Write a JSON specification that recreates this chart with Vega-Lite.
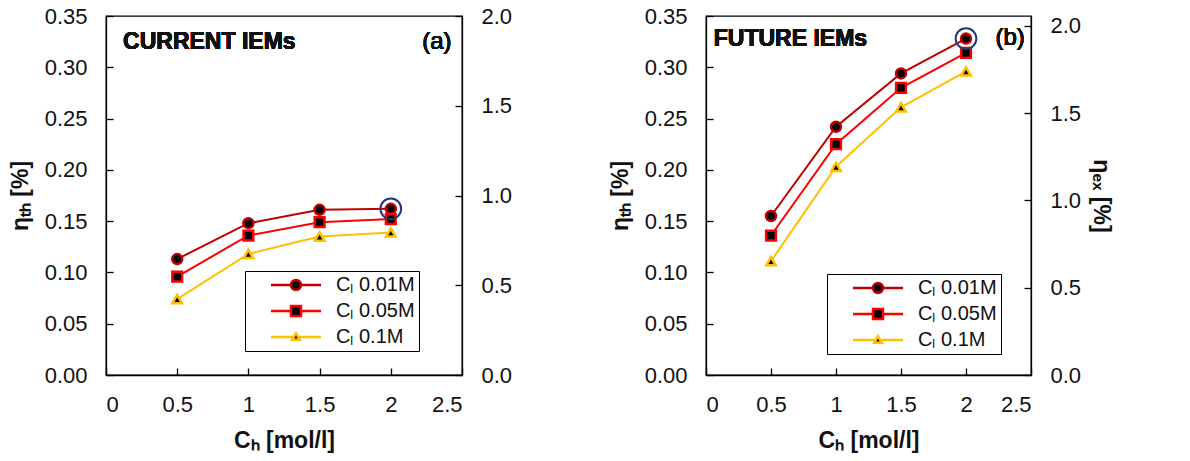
{
  "$schema": "https://vega.github.io/schema/vega-lite/v6.json",
  "background": "white",
  "padding": {"left": 8, "top": 4, "right": 20, "bottom": 0},
  "datasets": {
    "a": [
      {"series": "0.01M", "ch": 0.5, "eta": 0.113},
      {"series": "0.01M", "ch": 1.0, "eta": 0.148},
      {"series": "0.01M", "ch": 1.5, "eta": 0.161},
      {"series": "0.01M", "ch": 2.0, "eta": 0.162},
      {"series": "0.05M", "ch": 0.5, "eta": 0.096},
      {"series": "0.05M", "ch": 1.0, "eta": 0.136},
      {"series": "0.05M", "ch": 1.5, "eta": 0.149},
      {"series": "0.05M", "ch": 2.0, "eta": 0.152},
      {"series": "0.1M", "ch": 0.5, "eta": 0.074},
      {"series": "0.1M", "ch": 1.0, "eta": 0.118},
      {"series": "0.1M", "ch": 1.5, "eta": 0.135},
      {"series": "0.1M", "ch": 2.0, "eta": 0.139}
    ],
    "b": [
      {"series": "0.01M", "ch": 0.5, "eta": 0.155},
      {"series": "0.01M", "ch": 1.0, "eta": 0.242},
      {"series": "0.01M", "ch": 1.5, "eta": 0.294},
      {"series": "0.01M", "ch": 2.0, "eta": 0.328},
      {"series": "0.05M", "ch": 0.5, "eta": 0.136},
      {"series": "0.05M", "ch": 1.0, "eta": 0.225},
      {"series": "0.05M", "ch": 1.5, "eta": 0.280},
      {"series": "0.05M", "ch": 2.0, "eta": 0.314},
      {"series": "0.1M", "ch": 0.5, "eta": 0.111},
      {"series": "0.1M", "ch": 1.0, "eta": 0.203},
      {"series": "0.1M", "ch": 1.5, "eta": 0.261},
      {"series": "0.1M", "ch": 2.0, "eta": 0.296}
    ]
  },
  "config": {
    "font": "Liberation Sans",
    "view": {"stroke": "black", "strokeWidth": 1.3},
    "axis": {
      "grid": false,
      "domainColor": "black",
      "domainWidth": 1.3,
      "tickColor": "black",
      "tickWidth": 1.3,
      "tickSize": -7,
      "labelFont": "Liberation Sans",
      "labelFontSize": 22,
      "labelColor": "#111",
      "labelPadding": 26,
      "titleFont": "Liberation Sans",
      "titleFontSize": 23,
      "titleFontWeight": "bold",
      "titleColor": "#111"
    },
    "legend": {
      "orient": "none",
      "title": null,
      "strokeColor": "black",
      "fillColor": "white",
      "padding": 4,
      "labelFont": "Liberation Sans",
      "labelFontSize": 20,
      "labelColor": "#111",
      "rowPadding": 6,
      "symbolOffset": 37,
      "labelOffset": 30,
      "symbolStrokeWidth": 2.5,
      "symbolSize": 100
    }
  },
  "spacing": 95,
  "resolve": {
    "scale": {"stroke": "independent", "shape": "independent", "size": "independent"},
    "legend": {"stroke": "independent"}
  },
  "hconcat": [
    {
      "width": 356,
      "height": 359,
      "resolve": {"scale": {"y": "independent"}},
      "layer": [
        {
          "data": {"name": "a"},
          "resolve": {"scale": {"stroke": "independent", "shape": "independent", "size": "independent"}, "legend": {"stroke": "independent"}},
          "encoding": {
            "x": {"field": "ch", "type": "quantitative", "scale": {"domain": [0, 2.5], "nice": false},
                  "axis": {"values": [0, 0.5, 1, 1.5, 2, 2.5], "format": "~g", "title": "Cₕ [mol/l]", "titlePadding": 14}},
            "y": {"field": "eta", "type": "quantitative", "scale": {"domain": [0, 0.35], "nice": false},
                  "axis": {"values": [0, 0.05, 0.1, 0.15, 0.2, 0.25, 0.3, 0.35], "format": ".2f", "title": "ηₜₕ [%]", "titlePadding": 12}}
          },
          "layer": [
            {
              "mark": {"type": "line", "strokeWidth": 2},
              "encoding": {
                "stroke": {"field": "series", "type": "nominal",
                  "scale": {"domain": ["0.01M", "0.05M", "0.1M"], "range": ["#C00000", "#FF0000", "#FFC000"]},
                  "legend": {
                    "legendX": 139, "legendY": 255,
                    "labelExpr": "'Cₗ ' + datum.label + '\u00a0\u00a0\u00a0'",
                    "encode": {"symbols": {"update": {
                      "fill": {"value": "black"},
                      "size": {"value": 100},
                      "strokeWidth": {"value": 2.5},
                      "shape": {"signal": "datum.value === '0.01M' ? 'M-5,0H-1M1,0H5M1,0A1,1,0,1,1,-1,0A1,1,0,1,1,1,0Z' : datum.value === '0.05M' ? 'M-5,0H-1M1,0H5M-1,-1H1V1H-1Z' : 'M-5,0H-0.6M0.6,0H5M0,-0.75L0.75,0.55H-0.75Z'"}
                    }}}
                  }}
              }
            },
            {
              "mark": {"type": "point", "filled": true, "fill": "black", "strokeWidth": 2.5, "opacity": 1},
              "encoding": {
                "stroke": {"field": "series", "type": "nominal", "scale": {"domain": ["0.01M", "0.05M", "0.1M"], "range": ["#C00000", "#FF0000", "#FFC000"]}, "legend": null},
                "shape": {"field": "series", "type": "nominal", "scale": {"domain": ["0.01M", "0.05M", "0.1M"], "range": ["circle", "square", "triangle-up"]}, "legend": null},
                "size": {"field": "series", "type": "nominal", "scale": {"domain": ["0.01M", "0.05M", "0.1M"], "range": [100, 90, 40]}, "legend": null}
              }
            },
            {
              "transform": [{"filter": "datum.series === '0.01M' && datum.ch === 2"}],
              "mark": {"type": "point", "shape": "circle", "filled": false, "size": 430, "stroke": "#1F3A7A", "strokeWidth": 2, "opacity": 1}
            },
            {
              "mark": {"type": "text", "align": "left", "baseline": "middle", "fontSize": 23, "fontWeight": "bold", "color": "#111", "text": "CURRENT IEMs"},
              "encoding": {"x": {"datum": 0.12}, "y": {"datum": 0.3247}}
            },
            {
              "mark": {"type": "text", "align": "center", "baseline": "middle", "fontSize": 24, "fontWeight": "normal", "color": "#111", "text": "(a)"},
              "encoding": {"x": {"datum": 2.324}, "y": {"datum": 0.3247}}
            }
          ]
        },
        {
          "mark": {"type": "rule", "opacity": 0},
          "encoding": {
            "y": {"datum": 0, "type": "quantitative", "scale": {"domain": [0, 2], "nice": false},
                  "axis": {"orient": "right", "values": [0, 0.5, 1, 1.5, 2], "format": ".1f", "title": null}}
          }
        }
      ]
    },
    {
      "width": 325,
      "height": 359,
      "resolve": {"scale": {"y": "independent"}},
      "layer": [
        {
          "data": {"name": "b"},
          "resolve": {"scale": {"stroke": "independent", "shape": "independent", "size": "independent"}, "legend": {"stroke": "independent"}},
          "encoding": {
            "x": {"field": "ch", "type": "quantitative", "scale": {"domain": [0, 2.5], "nice": false},
                  "axis": {"values": [0, 0.5, 1, 1.5, 2, 2.5], "format": "~g", "title": "Cₕ [mol/l]", "titlePadding": 14}},
            "y": {"field": "eta", "type": "quantitative", "scale": {"domain": [0, 0.35], "nice": false},
                  "axis": {"values": [0, 0.05, 0.1, 0.15, 0.2, 0.25, 0.3, 0.35], "format": ".2f", "title": "ηₜₕ [%]", "titlePadding": 12}}
          },
          "layer": [
            {
              "mark": {"type": "line", "strokeWidth": 2},
              "encoding": {
                "stroke": {"field": "series", "type": "nominal",
                  "scale": {"domain": ["0.01M", "0.05M", "0.1M"], "range": ["#C00000", "#FF0000", "#FFC000"]},
                  "legend": {
                    "legendX": 121, "legendY": 258,
                    "labelExpr": "'Cₗ ' + datum.label + '\u00a0\u00a0\u00a0'",
                    "encode": {"symbols": {"update": {
                      "fill": {"value": "black"},
                      "size": {"value": 100},
                      "strokeWidth": {"value": 2.5},
                      "shape": {"signal": "datum.value === '0.01M' ? 'M-5,0H-1M1,0H5M1,0A1,1,0,1,1,-1,0A1,1,0,1,1,1,0Z' : datum.value === '0.05M' ? 'M-5,0H-1M1,0H5M-1,-1H1V1H-1Z' : 'M-5,0H-0.6M0.6,0H5M0,-0.75L0.75,0.55H-0.75Z'"}
                    }}}
                  }}
              }
            },
            {
              "mark": {"type": "point", "filled": true, "fill": "black", "strokeWidth": 2.5, "opacity": 1},
              "encoding": {
                "stroke": {"field": "series", "type": "nominal", "scale": {"domain": ["0.01M", "0.05M", "0.1M"], "range": ["#C00000", "#FF0000", "#FFC000"]}, "legend": null},
                "shape": {"field": "series", "type": "nominal", "scale": {"domain": ["0.01M", "0.05M", "0.1M"], "range": ["circle", "square", "triangle-up"]}, "legend": null},
                "size": {"field": "series", "type": "nominal", "scale": {"domain": ["0.01M", "0.05M", "0.1M"], "range": [100, 90, 40]}, "legend": null}
              }
            },
            {
              "transform": [{"filter": "datum.series === '0.01M' && datum.ch === 2"}],
              "mark": {"type": "point", "shape": "circle", "filled": false, "size": 430, "stroke": "#1F3A7A", "strokeWidth": 2, "opacity": 1}
            },
            {
              "mark": {"type": "text", "align": "left", "baseline": "middle", "fontSize": 23, "fontWeight": "bold", "color": "#111", "text": "FUTURE IEMs"},
              "encoding": {"x": {"datum": 0.06}, "y": {"datum": 0.3276}}
            },
            {
              "mark": {"type": "text", "align": "center", "baseline": "middle", "fontSize": 24, "fontWeight": "normal", "color": "#111", "text": "(b)"},
              "encoding": {"x": {"datum": 2.34}, "y": {"datum": 0.329}}
            }
          ]
        },
        {
          "mark": {"type": "rule", "opacity": 0},
          "encoding": {
            "y": {"datum": 0, "type": "quantitative", "scale": {"domain": [0, 2.057], "nice": false},
                  "axis": {"orient": "right", "values": [0, 0.5, 1, 1.5, 2], "format": ".1f", "title": "ηₑₓ [%]", "titlePadding": 8}}
          }
        }
      ]
    }
  ]
}
